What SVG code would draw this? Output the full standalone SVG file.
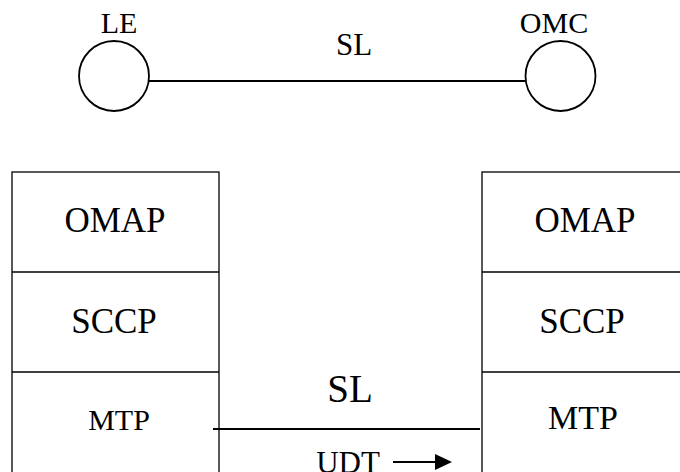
<svg xmlns="http://www.w3.org/2000/svg" width="680" height="472" viewBox="0 0 680 472">
<style>
  text { font-family: "Liberation Serif", "Times New Roman", serif; fill: #000; text-anchor: middle; }
  .node { fill: none; stroke: #000; stroke-width: 1.8; }
  .box { fill: none; stroke: #000; stroke-width: 1.3; }
  .link { stroke: #000; stroke-width: 1.8; fill: none; }
</style>
<defs>
  <marker id="arrow" markerWidth="10" markerHeight="10" refX="9" refY="5" orient="auto" markerUnits="userSpaceOnUse">
    <path d="M0,0 L0,0 L10,5 L0,10 Z" fill="#000"/>
  </marker>
</defs>
<rect width="680" height="472" fill="#fff"/>
<g id="connectors">
  <line class="link" x1="149" y1="81" x2="525" y2="81"/>
  <line class="link" x1="213" y1="429" x2="480" y2="429"/>
  <line class="link" x1="393" y1="462" x2="437" y2="462"/>
  <path d="M435,454 L452,462 L435,470 Z" fill="#000"/>
</g>
<g id="LE">
  <ellipse class="node" cx="114" cy="76" rx="35" ry="35"/>
  <text x="119" y="33" font-size="30">LE</text>
</g>
<g id="OMC">
  <ellipse class="node" cx="560.5" cy="76" rx="35" ry="35"/>
  <text x="554" y="33" font-size="30">OMC</text>
</g>
<text x="354" y="55" font-size="31">SL</text>
<g id="left-stack">
  <rect class="box" x="12" y="172" width="207" height="320"/>
  <line class="box" x1="12" y1="272" x2="219" y2="272"/>
  <line class="box" x1="12" y1="372" x2="219" y2="372"/>
  <text x="115" y="232" font-size="35">OMAP</text>
  <text x="114" y="333" font-size="35">SCCP</text>
  <text x="119" y="430" font-size="30">MTP</text>
</g>
<g id="right-stack">
  <rect class="box" x="482" y="172" width="210" height="320"/>
  <line class="box" x1="482" y1="272" x2="692" y2="272"/>
  <line class="box" x1="482" y1="372" x2="692" y2="372"/>
  <text x="585" y="232" font-size="35">OMAP</text>
  <text x="582" y="333" font-size="35">SCCP</text>
  <text x="583" y="429" font-size="34">MTP</text>
</g>
<text x="350" y="402" font-size="39">SL</text>
<text x="348" y="473" font-size="31">UDT</text>
</svg>
